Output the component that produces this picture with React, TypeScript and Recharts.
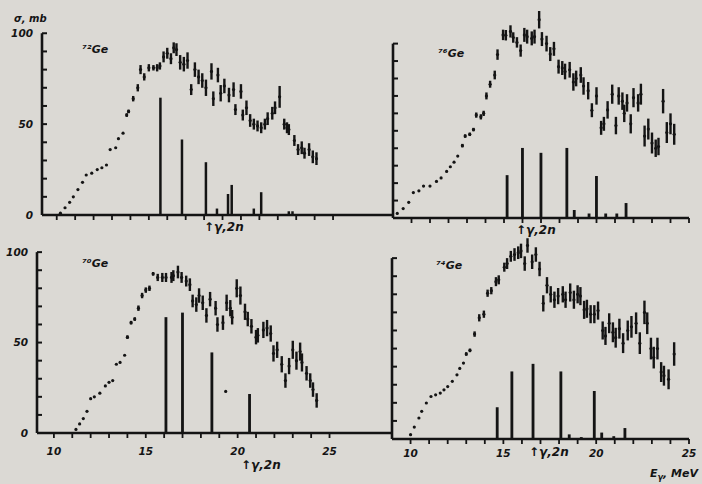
import {
  ComposedChart,
  Bar,
  Scatter,
  ErrorBar,
  XAxis,
  YAxis,
  ReferenceLine,
} from "recharts";

// [E (MeV), sigma (mb), error]
const ge72Points = [
  [10.2, 1, 0], [10.45, 4, 0], [10.7, 7, 0], [10.9, 10, 0], [11.15, 14, 0],
  [11.4, 18, 0], [11.6, 22, 0], [11.9, 23, 0], [12.2, 25, 0], [12.45, 26, 0],
  [12.7, 27.5, 0], [12.9, 36, 0], [13.2, 37, 0], [13.35, 42, 0], [13.6, 45, 0],
  [13.8, 55, 1], [13.9, 57, 1], [14.15, 64, 1.5], [14.4, 70, 2], [14.55, 80, 2.5],
  [14.75, 76, 2], [15.0, 81, 2], [15.25, 81, 1.5], [15.45, 81, 2], [15.6, 82, 2],
  [15.8, 87, 3], [16.0, 89, 3], [16.2, 86, 3], [16.35, 92, 3], [16.5, 91, 3.5],
  [16.7, 84, 4], [16.9, 83, 4], [17.1, 85, 4.5], [17.3, 69, 3], [17.5, 80, 4],
  [17.7, 76, 4], [17.9, 74, 4], [18.1, 70, 4.5], [18.4, 79, 4.5], [18.5, 64, 4],
  [18.75, 77, 4], [18.9, 67, 4.5], [19.1, 71, 4], [19.35, 66, 4], [19.6, 69, 4],
  [19.7, 58, 3], [20.0, 68, 4], [20.1, 55, 3], [20.3, 59, 4], [20.5, 52, 3.5],
  [20.7, 50, 3], [20.9, 49, 3], [21.1, 48, 3], [21.3, 50, 3], [21.45, 53, 3.5],
  [21.7, 56, 3.5], [21.85, 59, 3.5], [22.1, 65, 6], [22.35, 50, 3], [22.5, 48, 3],
  [22.6, 47, 3], [22.9, 41, 3], [23.1, 36, 3], [23.3, 37, 3.5], [23.45, 34, 3],
  [23.7, 36, 3.5], [23.9, 32, 3.5], [24.1, 31, 3.5],
];
const ge72Lines = [
  [15.63, 64], [16.8, 41], [18.1, 28.5], [18.7, 3], [19.3, 11], [19.5, 16],
  [20.7, 3], [21.1, 12], [22.6, 1.5], [22.8, 1.5],
];

const ge76Points = [
  [9.23, 2.6, 0], [9.55, 5.4, 0], [9.85, 9, 0], [10.1, 14.6, 0], [10.4, 15.6, 0],
  [10.65, 18.3, 0], [11.0, 18.3, 0], [11.35, 21, 0], [11.6, 23, 0], [11.9, 26.7, 0],
  [12.1, 29.4, 0], [12.3, 32, 0], [12.5, 35.5, 0], [12.75, 41.5, 1], [12.9, 47, 1],
  [13.15, 48, 1], [13.35, 50.7, 1], [13.5, 59, 1.5], [13.75, 58, 1.5], [13.9, 60, 1.5],
  [14.05, 70, 2], [14.25, 76.7, 2], [14.5, 82, 2.5], [14.65, 93.7, 3], [14.95, 105, 3],
  [15.1, 104.8, 3], [15.35, 107, 3.5], [15.5, 103.5, 3], [15.7, 100.7, 3], [15.9, 96, 3.5],
  [16.1, 105, 4], [16.25, 104, 4], [16.5, 103, 4], [16.65, 104, 4], [16.9, 113.7, 5],
  [17.05, 102.6, 4], [17.3, 100, 4.5], [17.5, 94, 4], [17.7, 97, 4], [17.95, 86.8, 4],
  [18.15, 86, 4], [18.3, 84, 4.5], [18.55, 85, 4.5], [18.75, 78, 5], [18.9, 80, 4.5],
  [19.15, 82, 4.5], [19.3, 75.7, 5], [19.55, 73, 5], [19.75, 61.8, 4], [20.0, 70, 5],
  [20.25, 51.7, 4], [20.4, 54, 4], [20.6, 62, 5], [20.85, 71, 5.5], [21.05, 53, 5],
  [21.2, 70, 5], [21.4, 67, 5], [21.5, 60, 5], [21.65, 66, 5], [21.85, 54, 5.5],
  [22.0, 69, 5.5], [22.25, 66, 5], [22.4, 71, 6], [22.6, 47, 6], [22.8, 51, 6],
  [23.0, 43, 6], [23.2, 40, 5], [23.35, 41, 5], [23.6, 67, 7], [23.8, 49, 6],
  [24.0, 54, 6], [24.2, 48, 6],
];
const ge76Lines = [
  [15.17, 24], [16.0, 39.6], [17.0, 36.8], [18.4, 39.6], [18.8, 4], [19.6, 2],
  [20.0, 23.5], [20.5, 2], [21.1, 2], [21.6, 8],
];

const ge70Points = [
  [11.2, 2, 0], [11.4, 5, 0], [11.6, 8, 0], [11.8, 12, 0], [12.0, 19, 0],
  [12.2, 20, 0], [12.5, 22, 0], [12.8, 26, 0], [13.0, 28, 0], [13.2, 29, 0],
  [13.4, 38, 0], [13.6, 39, 0], [13.85, 43, 0], [14.0, 53, 1], [14.2, 61, 1],
  [14.4, 63, 1], [14.6, 69, 1.5], [14.8, 76, 1.5], [15.0, 79, 1.5], [15.2, 80, 1.5],
  [15.4, 88, 1], [15.65, 86, 2], [15.9, 86, 2.5], [16.1, 86, 2.5], [16.4, 86, 3],
  [16.5, 87, 3], [16.75, 89, 3.5], [16.95, 86, 3], [17.2, 84, 3], [17.4, 82, 3.5],
  [17.55, 73, 3.5], [17.75, 71, 4], [17.9, 76, 4], [18.1, 72, 4], [18.3, 65, 4],
  [18.5, 74, 4], [18.8, 69, 4], [18.9, 60, 4], [19.2, 61, 4], [19.4, 72, 4.5],
  [19.6, 69, 4.5], [19.7, 64, 4], [19.95, 80, 5], [20.15, 76, 5], [20.4, 67, 4.5],
  [20.55, 63, 4], [20.75, 59, 4], [21.0, 53, 4], [21.1, 54, 4], [21.4, 57, 4.5],
  [21.6, 58, 4.5], [21.8, 55, 4.5], [21.95, 44, 4.5], [22.15, 46, 4.5], [22.4, 38, 4.5],
  [22.6, 29, 4], [22.8, 37, 4.5], [23.0, 46, 5], [23.2, 40, 5], [23.4, 45, 5],
  [23.5, 39, 5], [23.75, 33, 4], [23.95, 29, 4], [24.1, 24, 4], [24.3, 18, 4],
  [19.35, 23, 0],
];
const ge70Lines = [[16.1, 63.5], [17.0, 66], [18.6, 44], [20.65, 21]];

const ge74Points = [
  [10.0, 2.4, 0], [10.2, 6.6, 0], [10.45, 11.6, 0], [10.6, 15.3, 0], [10.85, 19.9, 0],
  [11.1, 23.5, 0], [11.35, 24.4, 0], [11.6, 25.4, 0], [11.8, 27.2, 0], [12.0, 29, 0],
  [12.25, 31.9, 0], [12.5, 35.5, 0], [12.65, 39, 0], [12.85, 42, 0], [13.0, 47, 1],
  [13.2, 49, 1], [13.45, 58, 1.5], [13.7, 67, 2], [13.95, 69, 2], [14.15, 80.6, 2],
  [14.35, 82, 2], [14.6, 87, 2.5], [14.75, 88, 2.5], [15.05, 95, 2.5], [15.2, 97, 3],
  [15.4, 101, 3], [15.6, 102, 3.5], [15.8, 103, 3.5], [15.95, 104, 4], [16.15, 97, 4],
  [16.3, 107, 4], [16.55, 98, 4], [16.75, 102, 4], [16.95, 94, 4], [17.15, 75, 4.5],
  [17.35, 85, 4.5], [17.55, 80, 4.5], [17.75, 77, 4.5], [17.95, 79, 4.5], [18.2, 80, 4.5],
  [18.35, 77, 4.5], [18.6, 81, 5], [18.8, 77, 5], [19.0, 80, 5], [19.15, 79, 5],
  [19.35, 71.4, 5], [19.5, 72, 5], [19.7, 69, 5], [19.9, 69, 5], [20.1, 71, 5],
  [20.35, 60, 5], [20.5, 57, 5], [20.7, 64, 5.5], [20.9, 59, 5.5], [21.05, 56, 5.5],
  [21.25, 61, 5.5], [21.45, 53, 5.5], [21.7, 60, 5.5], [21.9, 62, 6], [22.15, 64, 6],
  [22.35, 53, 6], [22.6, 70, 6.5], [22.75, 64, 6], [22.95, 50, 6], [23.1, 45, 6],
  [23.3, 50, 6], [23.5, 37, 5.5], [23.65, 35, 5.5], [23.9, 33, 5.5], [24.2, 47, 6.5],
];
const ge74Lines = [
  [14.67, 17], [15.46, 36.8], [16.6, 41], [18.1, 36.8], [18.55, 2], [19.2, 0.5],
  [19.9, 26], [20.3, 3], [20.95, 1], [21.55, 5.5],
];

const X_TICKS = [10, 11, 12, 13, 14, 15, 16, 17, 18, 19, 20, 21, 22, 23, 24, 25];
const Y_TICKS = [0, 10, 20, 30, 40, 50, 60, 70, 80, 90, 100];

const INK = "#141414";
const BG = "#dbd9d4";
const FONT = "'DejaVu Sans', sans-serif";
const tickStyle = {
  fill: INK,
  fontSize: 10.5,
  fontWeight: 700,
  fontStyle: "italic",
  fontFamily: FONT,
};

const toPoints = (rows: number[][]) =>
  rows.map(([e, s, err]) => ({ e, s, err }));
const toLines = (rows: number[][]) => rows.map(([e, s]) => ({ e, s }));

const Dot = (props: any) => (
  <circle cx={props.cx} cy={props.cy} r={1.6} fill={INK} />
);

// y ticks point inward, label sits left of the axis
const Y_GAP = 9;
function YTick(props: any) {
  const { x, y, payload, showLabel } = props;
  const v = payload.value;
  return (
    <g>
      <line x1={x + Y_GAP} x2={x + Y_GAP + 5} y1={y} y2={y} stroke={INK} strokeWidth={2} />
      {showLabel && v % 50 === 0 ? (
        <text x={x} y={y} dy="0.35em" textAnchor="end" {...tickStyle}>
          {v}
        </text>
      ) : null}
    </g>
  );
}

type PanelProps = {
  left: number;
  top: number;
  width: number;
  height: number;
  margin: { top: number; right: number; left: number; bottom: number };
  yWidth: number;
  xHeight: number;
  xDomain: [number, number];
  xLabelGap: number;
  lines: number[][];
  points: number[][];
  yLabels: boolean;
  xLabels: boolean;
};

function Panel(p: PanelProps) {
  return (
    <div style={{ position: "absolute", left: p.left, top: p.top }}>
      <ComposedChart
        width={p.width}
        height={p.height}
        data={toLines(p.lines)}
        margin={p.margin}
      >
        <XAxis
          type="number"
          dataKey="e"
          domain={p.xDomain}
          ticks={X_TICKS}
          interval={0}
          height={p.xHeight}
          axisLine={{ stroke: INK, strokeWidth: 2.6 }}
          tickLine={{ stroke: INK, strokeWidth: 1.8 }}
          tickSize={5}
          tickMargin={p.xLabelGap}
          tick={tickStyle}
          tickFormatter={(v: number) => (p.xLabels && v % 5 === 0 ? String(v) : "")}
        />
        <YAxis
          type="number"
          dataKey="s"
          domain={[0, 115]}
          ticks={Y_TICKS}
          interval={0}
          width={p.yWidth}
          axisLine={false}
          tickLine={false}
          tickSize={0}
          tickMargin={Y_GAP}
          tick={<YTick showLabel={p.yLabels} />}
        />
        <ReferenceLine
          segment={[
            { x: p.xDomain[0], y: 0 },
            { x: p.xDomain[0], y: 100 },
          ]}
          stroke={INK}
          strokeWidth={2.6}
        />
        <Bar
          dataKey="s"
          fill={INK}
          stroke={INK}
          strokeWidth={2}
          barSize={1}
          isAnimationActive={false}
        />
        <Scatter
          data={toPoints(p.points)}
          dataKey="s"
          fill={INK}
          shape={Dot}
          isAnimationActive={false}
        >
          <ErrorBar
            dataKey="err"
            direction="y"
            width={0}
            stroke={INK}
            strokeWidth={2.4}
          />
        </Scatter>
      </ComposedChart>
    </div>
  );
}

const labelStyle = {
  position: "absolute" as const,
  color: INK,
  fontFamily: FONT,
  fontWeight: 700,
  fontStyle: "italic",
  fontSize: 11,
  lineHeight: "12px",
  whiteSpace: "nowrap" as const,
};

export default function App() {
  return (
    <div
      style={{
        position: "absolute",
        left: 0,
        top: 0,
        width: 702,
        height: 484,
        background: BG,
        overflow: "hidden",
      }}
    >
      <Panel
        left={0}
        top={0}
        width={400}
        height={240}
        margin={{ top: 6, right: 8, left: 0, bottom: 0 }}
        yWidth={42}
        xHeight={25}
        xDomain={[9.2, 28.2]}
        xLabelGap={6}
        lines={ge72Lines}
        points={ge72Points}
        yLabels
        xLabels={false}
      />
      <Panel
        left={350}
        top={0}
        width={352}
        height={240}
        margin={{ top: 11, right: 13, left: 0, bottom: 0 }}
        yWidth={43}
        xHeight={22}
        xDomain={[9, 25]}
        xLabelGap={6}
        lines={ge76Lines}
        points={ge76Points}
        yLabels={false}
        xLabels={false}
      />
      <Panel
        left={0}
        top={220}
        width={400}
        height={264}
        margin={{ top: 5, right: 8, left: 0, bottom: 0 }}
        yWidth={37}
        xHeight={51}
        xDomain={[9.08, 28.4]}
        xLabelGap={10}
        lines={ge70Lines}
        points={ge70Points}
        yLabels
        xLabels
      />
      <Panel
        left={350}
        top={220}
        width={352}
        height={264}
        margin={{ top: 11, right: 13, left: 0, bottom: 0 }}
        yWidth={42}
        xHeight={45}
        xDomain={[9, 25]}
        xLabelGap={6}
        lines={ge74Lines}
        points={ge74Points}
        yLabels={false}
        xLabels
      />

      <div style={{ ...labelStyle, left: 14, top: 13, fontSize: 10 }}>σ, mb</div>
      <div style={{ ...labelStyle, left: 650, top: 468 }}>
        E<sub style={{ fontSize: 8 }}>γ</sub>, MeV
      </div>

      <div style={{ ...labelStyle, left: 82, top: 44 }}>⁷²Ge</div>
      <div style={{ ...labelStyle, left: 438, top: 48 }}>⁷⁶Ge</div>
      <div style={{ ...labelStyle, left: 82, top: 258 }}>⁷⁰Ge</div>
      <div style={{ ...labelStyle, left: 436, top: 260 }}>⁷⁴Ge</div>

      <div style={{ ...labelStyle, left: 204, top: 221, fontSize: 12 }}>↑γ,2n</div>
      <div style={{ ...labelStyle, left: 516, top: 224, fontSize: 12 }}>↑γ,2n</div>
      <div style={{ ...labelStyle, left: 241, top: 459, fontSize: 12 }}>↑γ,2n</div>
      <div style={{ ...labelStyle, left: 529, top: 446, fontSize: 12 }}>↑γ,2n</div>
    </div>
  );
}
